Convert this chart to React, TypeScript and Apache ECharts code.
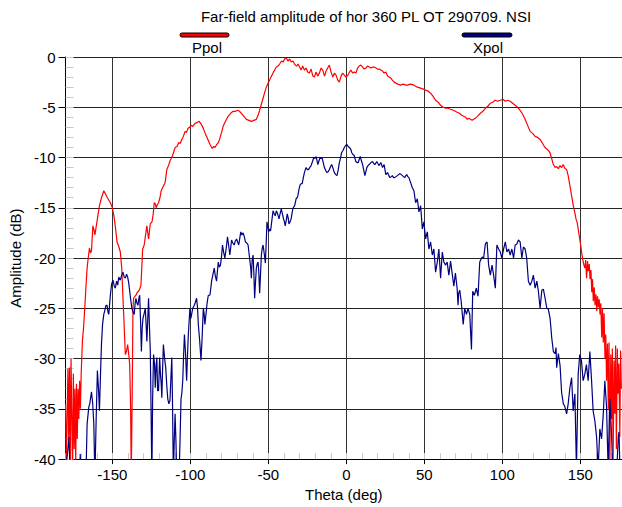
import React, { useEffect, useRef } from "react";
import * as echarts from "echarts";

const titleText = "Far-field amplitude of hor 360 PL OT 290709. NSI";
const seriesNames = ["Ppol", "Xpol"];
const xMajorTicks = [-150, -100, -50, 0, 50, 100, 150];
const thetaMin = -180;
const thetaMax = 176.7;

// [theta (deg), amplitude (dB)]
const ppol: [number, number][] = [
  [-180, -34.5], [-179.5, -40.5], [-179, -36], [-178.5, -31], [-178, -38], [-177.5, -30.9], [-177, -40.5],
  [-176.5, -30], [-176, -36], [-175.5, -41], [-175, -31.5], [-174.5, -39], [-174, -33], [-173.5, -40.5],
  [-173, -32.5], [-172.5, -38], [-172, -33], [-171.5, -36], [-171, -32.2], [-170.5, -35], [-170, -31.5],
  [-169.2, -28.2], [-168.5, -27], [-167.7, -25], [-167, -23], [-166.2, -21], [-165.5, -20], [-164.7, -19],
  [-164, -19.5], [-163.4, -19.3], [-162.5, -16.8], [-161.8, -17.2], [-161.2, -17.7], [-160, -16.5],
  [-159, -15.5], [-158.3, -14.8], [-157, -14.0], [-155.5, -13.3], [-154.5, -13.6], [-153.5, -13.9],
  [-152.8, -14.1], [-151.3, -14.5], [-150.2, -14.9], [-149, -15.8], [-148, -17], [-147, -18.4],
  [-146, -18.8], [-144.9, -19.4], [-144, -21], [-143.2, -24], [-142.5, -26.5], [-141.7, -29.6],
  [-141, -29.3], [-140.2, -28.6], [-139.5, -29.6], [-138.9, -30.6], [-138.3, -35], [-137.9, -42],
  [-137.2, -32], [-136.8, -25], [-136.4, -24], [-135.5, -23.8], [-134.9, -23.7], [-134, -23.4],
  [-133.2, -23.3], [-132.3, -23], [-131.7, -22.7], [-131, -20.5], [-130.6, -19.1], [-129.6, -18.7],
  [-128.8, -17.8], [-127.9, -16.8], [-127.3, -17.5], [-126.8, -18.1], [-125.7, -16.6], [-124.6, -16.4],
  [-123.8, -15.6], [-123.2, -14.5], [-122.5, -14.6], [-121.9, -15], [-121.2, -14.7], [-120.4, -14.5],
  [-119.5, -14], [-118.7, -13.3], [-117.5, -12.9], [-116.2, -12.5], [-115.1, -11.2], [-114, -10.8],
  [-113, -10.3], [-111.9, -10], [-111, -9.6], [-109.8, -9], [-108.5, -8.9], [-107.5, -8.5], [-106.5, -8.6],
  [-105.5, -8.2], [-104.5, -7.9], [-103.4, -7.4], [-102.5, -7.5], [-101.5, -7.1], [-100.5, -7.0],
  [-99.6, -6.8], [-98.5, -6.9], [-97, -6.6], [-95.5, -6.5], [-94.3, -6.4], [-93, -6.7], [-91.7, -7.1],
  [-90.5, -7.6], [-89.6, -7.9], [-88.5, -8.3], [-87.4, -8.7], [-86, -9.1], [-85, -8.9], [-84.3, -9.0],
  [-83, -8.7], [-82, -8.5], [-81.1, -8.1], [-80, -7.5], [-79, -6.9], [-77.5, -6.4], [-75.8, -5.9],
  [-74.2, -5.6], [-72.6, -5.4], [-71, -5.4], [-69.8, -5.3], [-68.5, -5.4], [-67.3, -5.6], [-65.7, -5.9],
  [-64.1, -6.2], [-62.5, -6.3], [-60.9, -6.4], [-59.3, -6.3], [-57.7, -6.2], [-56.6, -5.8], [-55.6, -5.3],
  [-54.5, -4.7], [-53.4, -4.1], [-52.3, -3.5], [-51.3, -3.0], [-50.2, -2.6], [-49.2, -2.3], [-48, -1.9],
  [-47, -1.6], [-46, -1.3], [-44.9, -1.0], [-43.8, -0.9], [-42.8, -0.7], [-41.5, -0.4], [-40.5, -0.5],
  [-39.6, -0.2], [-38.5, -0.1], [-37.5, -0.4], [-36.4, -0.2], [-35.3, -0.5], [-34.3, -0.4], [-33.2, -0.7],
  [-32, -0.9], [-31, -0.7], [-30, -1.0], [-29, -1.3], [-28, -0.9], [-26.9, -1.3], [-25.8, -1.1],
  [-24.8, -1.5], [-23.7, -1.6], [-22.6, -1.2], [-21.5, -1.9], [-20.5, -2.0], [-19.5, -1.5], [-18.4, -1.9],
  [-17.3, -1.6], [-16.2, -1.1], [-15.1, -1.3], [-14, -1.9], [-13, -1.4], [-12, -1.1], [-10.9, -0.8],
  [-9.8, -1.5], [-8.7, -2.0], [-7.6, -1.6], [-6.6, -1.8], [-5.5, -2.3], [-4.5, -2.5], [-3.4, -1.9],
  [-2.4, -1.6], [-1.3, -1.8], [-0.3, -2.0], [1, -1.8], [2, -1.5], [2.9, -1.3], [4, -1.6], [5, -1.5],
  [6.1, -1.6], [7.2, -1.1], [8.2, -0.9], [9.3, -0.8], [10.4, -1.0], [11.4, -1.2], [12.5, -1.1],
  [13.6, -0.9], [14.6, -1.0], [15.7, -1.1], [16.8, -1.0], [17.8, -1.0], [18.9, -1.1], [20, -1.2],
  [21, -1.2], [22.1, -1.3], [23.2, -1.4], [24.2, -1.6], [25.3, -1.5], [26.4, -1.9], [27.4, -2.0],
  [28.5, -2.1], [29.5, -2.3], [30.6, -2.5], [31.7, -2.6], [33, -2.7], [34.8, -2.8], [36.5, -2.7],
  [38, -2.8], [39.1, -2.8], [41, -2.7], [43.3, -2.8], [45.5, -3.0], [47.6, -3.1], [49.5, -3.2],
  [50.8, -3.3], [52.5, -3.4], [54, -3.6], [55.5, -3.9], [57.2, -4.3], [58.8, -4.5], [60.4, -4.8],
  [62, -5.0], [63.6, -5.1], [65.2, -5.1], [66.8, -5.2], [68.5, -5.3], [69.9, -5.4], [71, -5.5],
  [72.5, -5.6], [74, -5.8], [75.2, -5.9], [76.5, -6.0], [77.5, -6.2], [78.5, -6.1], [79.5, -6.2],
  [80.6, -6.3], [81.6, -6.2], [82.7, -6.1], [84, -5.9], [85.9, -5.6], [87.5, -5.4], [89.1, -5.1],
  [90.7, -4.9], [92.3, -4.6], [93.8, -4.5], [95.4, -4.3], [97, -4.4], [98.7, -4.3], [100.3, -4.2],
  [101.9, -4.4], [103.4, -4.3], [105, -4.4], [106.6, -4.6], [108.2, -4.8], [109.8, -5.0], [111.4, -5.3],
  [113, -5.7], [114.6, -6.2], [116.2, -6.8], [117.8, -7.4], [119.4, -7.6], [121, -7.9], [122.6, -8.0],
  [124.2, -8.2], [125.8, -8.6], [127.3, -9.0], [128.9, -9.2], [130.5, -9.5], [131.6, -10.1],
  [132.7, -10.7], [133.8, -11.0], [134.8, -10.9], [135.9, -11.1], [137, -10.8], [138, -11.0],
  [139, -10.7], [140.1, -11.1], [141.2, -11.2], [142.2, -11.8], [143.3, -12.8], [144.4, -13.8],
  [145.5, -14.8], [146.5, -15.5], [147.2, -16.1], [148, -16.5], [148.6, -17.1], [149.4, -17.9],
  [150.2, -18.7], [150.8, -19.4], [151.4, -20], [152.1, -20.6], [152.9, -21], [153.4, -20.2], [154, -22],
  [154.6, -20.3], [155.1, -21.3], [155.7, -20.6], [156.2, -22.1], [156.8, -21.2], [157.3, -23.4],
  [157.8, -22.1], [158.3, -24.3], [158.9, -22.9], [159.4, -24.7], [160, -23.6], [160.5, -25.3],
  [161, -23.8], [161.6, -24.9], [162.1, -24.1], [162.6, -25.6], [163.1, -24.5], [163.7, -27.9],
  [164.2, -25], [164.7, -28.4], [165.2, -25.5], [165.8, -30], [166.3, -27.6], [166.8, -32.2],
  [167.4, -28.5], [167.9, -35], [168.4, -28.4], [168.9, -41], [169.5, -29.6], [170, -36], [170.5, -29],
  [171, -40.5], [171.6, -30.2], [172.1, -35.5], [172.6, -28.7], [173.1, -39], [173.7, -29], [174.2, -33.5],
  [174.7, -30.5], [175.3, -37.8], [175.8, -29.2], [176.3, -33],
];

const xpol: [number, number][] = [
  [-180, -41], [-178.8, -39.5], [-177.8, -37.8], [-177, -42], [-175, -42], [-171, -42], [-170.6, -39.5],
  [-170, -42], [-167, -42], [-166.2, -36.5], [-165.1, -34.8], [-164.5, -34.5], [-163.4, -33.3],
  [-162.6, -34.5], [-161.9, -36.5], [-161.2, -42], [-160.4, -36], [-159.6, -31.2], [-158.9, -33],
  [-158.3, -35.2], [-157.5, -31], [-157, -28.6], [-156.3, -26.6], [-155.5, -25.6], [-155, -25.3],
  [-154.1, -24.7], [-153.4, -24.7], [-152.8, -25.4], [-152.3, -25.6], [-151.3, -23.7], [-150.5, -22.6],
  [-149.6, -22.2], [-148.8, -22.8], [-148.1, -23], [-147.3, -22.3], [-146.6, -22.7], [-145.9, -21.9],
  [-144.9, -22.2], [-144, -21.7], [-143.2, -21.4], [-142.4, -21.9], [-141.7, -22], [-140.9, -21.6],
  [-140.2, -21.9], [-139.5, -22.5], [-138.9, -23.3], [-138.2, -24.2], [-137.5, -25], [-136.7, -25.4],
  [-136, -25.6], [-135.4, -24.5], [-134.9, -24], [-134.2, -24.5], [-133.6, -24.7], [-133, -24],
  [-132.5, -23.7], [-131.9, -26.5], [-131.4, -29.3], [-130.9, -27], [-130.4, -26], [-129.6, -25.5],
  [-128.9, -25], [-128.4, -26.5], [-127.9, -28.3], [-127.3, -26], [-126.8, -24], [-126.2, -27],
  [-125.7, -29.2], [-125.2, -35], [-124.7, -42], [-124.2, -34], [-123.6, -29.6], [-123, -30.5],
  [-122.5, -32.9], [-122, -30.8], [-121.5, -29.9], [-121, -33.2], [-120.4, -33.2], [-119.7, -29.9],
  [-119.2, -31.5], [-118.7, -32.5], [-118.3, -33.9], [-117.8, -31], [-117.3, -28.6], [-116.5, -30],
  [-115.8, -30.9], [-115.2, -32.5], [-114.5, -34], [-113.8, -34.5], [-113.1, -34.2], [-112.5, -32],
  [-111.9, -29.9], [-111.4, -35], [-110.9, -42], [-110.3, -38], [-109.8, -35.5], [-109.2, -38.5],
  [-108.7, -42], [-107.3, -42], [-106.6, -38], [-106, -34], [-105.5, -33.5], [-104.9, -32.2],
  [-104.3, -29.5], [-103.8, -27.6], [-103.1, -29.5], [-102.4, -32.2], [-101.8, -29.5], [-101.3, -27.6],
  [-100.3, -25], [-99.7, -26], [-99.2, -25.6], [-98.5, -25], [-97.5, -24.7], [-96.8, -24.4], [-96, -24],
  [-95.4, -25], [-94.9, -26.6], [-94, -28.3], [-93.2, -30.2], [-92.5, -28], [-91.7, -25], [-91.2, -25.5],
  [-90.7, -26.6], [-90, -25.6], [-89.3, -24.5], [-88.5, -23.7], [-87.5, -23.7], [-86.9, -23],
  [-86.4, -22.3], [-85.5, -21.6], [-84.7, -21], [-84, -21.8], [-83.2, -22.3], [-82.6, -21.2],
  [-82.1, -20.4], [-81.4, -20.9], [-80.7, -20.7], [-80, -19.8], [-79.4, -18.7], [-78.7, -19.4],
  [-77.9, -20], [-77, -19], [-76.2, -17.9], [-75.4, -18.8], [-74.7, -19.7], [-74.1, -18.9], [-73.6, -18.2],
  [-72.8, -18.5], [-71.9, -18.7], [-71.2, -18.3], [-70.4, -18.1], [-69.7, -18.4], [-69, -18.7],
  [-68.3, -18.0], [-67.7, -17.4], [-67, -17.7], [-66.2, -17.5], [-65.4, -17.9], [-64.7, -18.4],
  [-63.8, -18.5], [-63, -18.7], [-62.2, -19.8], [-61.3, -21], [-60.9, -22], [-60.4, -20.2], [-59.8, -19.7],
  [-59.3, -21.5], [-58.8, -24], [-58.3, -22.5], [-57.7, -21], [-57.2, -20.6], [-56.6, -20.4],
  [-56.1, -21.5], [-55.6, -23.5], [-55, -21.5], [-54.5, -19.7], [-54, -19.1], [-53.4, -18.7],
  [-52.7, -19.5], [-51.9, -20.5], [-51.4, -18.5], [-50.9, -16.4], [-50.3, -16.9], [-49.8, -17.4],
  [-49.2, -17.1], [-48.6, -17.3], [-47.8, -16.3], [-47, -15.3], [-46.3, -15.6], [-45.6, -15.8],
  [-44.9, -15.3], [-44.3, -15.5], [-43.7, -15.8], [-43.2, -16.1], [-42.5, -15.6], [-41.7, -15.1],
  [-41, -15.6], [-40.3, -16.1], [-39.7, -16.4], [-39.2, -16.8], [-38.5, -16.2], [-37.9, -15.6],
  [-37.3, -16], [-36.8, -16.6], [-36.1, -16.4], [-35.4, -16.1], [-34.8, -15.5], [-34.3, -15.1],
  [-33.7, -14.9], [-33.2, -14.8], [-32.6, -14.4], [-32.2, -14.1], [-31.6, -14.0], [-31.1, -13.8],
  [-30.4, -13.2], [-29.6, -12.7], [-28.9, -12.6], [-28.3, -12.6], [-27.6, -12.0], [-26.9, -11.5],
  [-26.3, -11.2], [-25.8, -11.0], [-25, -11.2], [-24.3, -11.2], [-23.5, -11.0], [-22.6, -10.8],
  [-21.7, -10.4], [-20.9, -10.0], [-20.1, -10.1], [-19.4, -9.9], [-18.8, -10.3], [-18.3, -10.7],
  [-17.5, -10.3], [-16.8, -10.0], [-16.2, -10.1], [-15.6, -10.0], [-14.8, -10.5], [-14.1, -11.0],
  [-13.2, -11.3], [-12.4, -11.5], [-11.6, -11.4], [-10.9, -11.2], [-10.1, -10.9], [-9.4, -10.7],
  [-8.5, -11.1], [-7.7, -11.5], [-6.8, -11.7], [-6, -11.8], [-5.2, -11.2], [-4.5, -10.5], [-3.7, -10.0],
  [-3, -9.5], [-2.2, -9.3], [-1.3, -9.0], [-0.5, -8.8], [0.4, -8.7], [1.1, -8.9], [1.9, -9.0],
  [2.9, -9.2], [3.4, -9.5], [4.2, -9.7], [5, -9.8], [6.1, -10.4], [6.8, -10.5], [7.6, -10.5],
  [8.2, -10.2], [8.9, -9.9], [9.6, -10.3], [10.4, -10.7], [11.2, -11.3], [11.9, -11.8], [12.5, -11.4],
  [13.1, -11.0], [13.9, -10.8], [14.6, -10.7], [15.7, -10.5], [16.8, -10.4], [17.5, -10.6],
  [18.3, -10.7], [19.5, -10.4], [20.2, -10.6], [21, -10.8], [22.1, -10.5], [23.2, -11], [24.2, -10.7],
  [25.3, -11.7], [26.4, -11.5], [27.2, -11.8], [28, -12], [28.8, -11.9], [29.5, -11.8], [30.3, -12.0],
  [31, -12], [31.8, -11.9], [32.7, -11.8], [33.5, -11.7], [34.4, -11.6], [35.2, -11.7], [35.9, -11.8],
  [36.6, -11.9], [37.4, -12], [38.1, -11.8], [38.7, -11.7], [39.4, -11.9], [40.1, -12], [41.2, -12.5],
  [42.3, -13], [43.3, -13.3], [44.4, -14.5], [45.5, -14.1], [46.5, -15.4], [47.6, -14.8], [48.7, -17.1],
  [49.7, -16.4], [50.8, -18.1], [51.9, -17.4], [52.9, -19.1], [54, -18.4], [55.1, -19.7], [56.1, -19.1],
  [57.2, -21.4], [58.3, -20.4], [59.3, -19.1], [60.4, -22], [61.5, -19.4], [62.5, -20.4], [63.6, -20.7],
  [64.6, -20.4], [65.7, -21.7], [66.8, -20.3], [67.8, -21.5], [68.9, -22.8], [69.9, -21.5], [71, -23],
  [71.6, -24.7], [72, -23.5], [72.7, -23.2], [73.6, -24.3], [74.9, -26.6], [75.9, -25], [77, -25.6],
  [78, -25], [79.1, -25.6], [80.2, -29.1], [81, -23.3], [82.1, -23.7], [83.3, -23], [84.4, -23.8],
  [85.5, -20.4], [87, -19.9], [88, -20], [89.1, -18.6], [90.2, -18.4], [91.2, -20.7], [92.3, -21.7],
  [93.4, -20.7], [94.4, -21.7], [95.5, -23], [96.5, -18.7], [97.6, -19.1], [98.7, -19.4], [99.7, -20],
  [100.8, -19.1], [101.9, -18.4], [102.9, -19.4], [104, -19.1], [105, -19.7], [106.1, -19.1],
  [107.2, -20], [108.2, -18.7], [109.3, -18.6], [110.3, -18.2], [111.4, -18.4], [112.5, -20],
  [113.5, -18.9], [114.6, -19.1], [115.6, -20], [116.7, -22.3], [117.8, -22.7], [118.9, -22.3],
  [119.9, -21.7], [121, -23], [122.1, -22.3], [123.1, -23.3], [124.2, -25], [125.3, -23.2], [126.3, -23.1],
  [127.4, -24], [128.5, -25], [129.5, -25.1], [130.6, -26], [131.7, -28], [132.7, -29.3], [133.8, -29.5],
  [134.4, -28.9], [134.8, -30.9], [135.9, -29.5], [137, -30.7], [138, -33.4], [139.1, -34.5],
  [140.1, -34.8], [141.2, -35.5], [142.2, -34.5], [143.3, -32.9], [144.4, -31.9], [145.4, -35.2],
  [146.5, -33.5], [147.5, -41], [148.6, -31.6], [149.6, -29.6], [150.7, -30.2], [151.8, -32.2],
  [152.8, -31.6], [153.9, -30.6], [155, -32.2], [156.1, -29.3], [157.2, -32.2], [158.2, -35.2],
  [159.3, -36.2], [160.4, -37.8], [161.4, -41], [162.5, -37], [163.6, -38], [164.7, -35.5], [165.7, -32.2],
  [166.8, -34.8], [167.8, -41], [168.9, -34], [170, -37.5], [171, -42], [172, -42], [173.1, -42],
  [174.3, -37.8], [174.8, -37.3], [175.5, -42], [176.3, -42],
];

const FONT = "'Liberation Sans', Arial, Helvetica, sans-serif";

export default function App() {
  const ref = useRef<HTMLDivElement>(null);
  useEffect(() => {
    if (!ref.current) return;
    const chart = echarts.init(ref.current, null, { renderer: "svg" });
    const labelStyle = { color: "#000", fontSize: 15, fontFamily: FONT };
    chart.setOption({
      animation: false,
      backgroundColor: "#fff",
      grid: { left: 63, top: 57, right: 0, bottom: 45, containLabel: false },
      xAxis: [
        {
          type: "value",
          min: thetaMin,
          max: thetaMax,
          name: "Theta (deg)",
          nameLocation: "middle",
          nameGap: 25,
          nameTextStyle: labelStyle,
          axisLine: { show: true, onZero: false, lineStyle: { color: "#000", width: 1 } },
          axisTick: { show: true, customValues: xMajorTicks, length: 5, lineStyle: { color: "#000" } },
          axisLabel: { customValues: xMajorTicks, margin: 8, ...labelStyle },
          splitLine: { show: true, lineStyle: { color: "#333", width: 1 } },
        },
        {
          type: "value",
          min: thetaMin,
          max: thetaMax,
          interval: 10,
          position: "bottom",
          axisLine: { show: false, onZero: false },
          axisTick: { show: true, inside: true, length: 6, lineStyle: { color: "#c8c8c8" } },
          axisLabel: { show: false },
          splitLine: { show: false },
        },
      ],
      yAxis: [
        {
          type: "value",
          min: -40,
          max: 0,
          interval: 5,
          name: "Amplitude (dB)",
          nameLocation: "middle",
          nameGap: 39,
          nameTextStyle: labelStyle,
          axisLine: { show: true, onZero: false, lineStyle: { color: "#000", width: 1 } },
          axisTick: { show: true, length: 7, lineStyle: { color: "#000" } },
          axisLabel: { margin: 10, ...labelStyle },
          splitLine: { show: true, lineStyle: { color: "#222", width: 1 } },
        },
        {
          type: "value",
          min: -40,
          max: 0,
          interval: 1,
          position: "left",
          axisLine: { show: false, onZero: false },
          axisTick: { show: true, inside: true, length: 8, lineStyle: { color: "#c8c8c8" } },
          axisLabel: { show: false },
          splitLine: { show: false },
        },
      ],
      series: [
        {
          name: seriesNames[0],
          type: "line",
          data: ppol,
          showSymbol: false,
          symbol: "none",
          clip: true,
          lineStyle: { color: "#ff0000", width: 1.2 },
          itemStyle: { color: "#ff0000" },
          z: 3,
        },
        {
          name: seriesNames[1],
          type: "line",
          data: xpol,
          showSymbol: false,
          symbol: "none",
          clip: true,
          lineStyle: { color: "#000080", width: 1.2 },
          itemStyle: { color: "#000080" },
          z: 4,
        },
      ],
      graphic: [
        {
          type: "text",
          x: 366,
          y: 16,
          style: {
            text: titleText,
            fill: "#000",
            font: `15px ${FONT}`,
            align: "center",
            verticalAlign: "middle",
          },
        },
        {
          type: "rect",
          shape: { x: 180, y: 33, width: 49, height: 4, r: 2 },
          style: { fill: "#ff0000", stroke: "#000", lineWidth: 1 },
        },
        {
          type: "text",
          x: 207,
          y: 47,
          style: { text: seriesNames[0], fill: "#000", font: `15px ${FONT}`, align: "center", verticalAlign: "middle" },
        },
        {
          type: "rect",
          shape: { x: 462, y: 33, width: 50, height: 4, r: 2 },
          style: { fill: "#000080", stroke: "#000", lineWidth: 1 },
        },
        {
          type: "text",
          x: 488,
          y: 47,
          style: { text: seriesNames[1], fill: "#000", font: `15px ${FONT}`, align: "center", verticalAlign: "middle" },
        },
      ],
    });
    return () => chart.dispose();
  }, []);
  return (
    <div
      ref={ref}
      style={{ position: "fixed", left: 0, top: 0, width: 622, height: 507, background: "#fff" }}
    />
  );
}
